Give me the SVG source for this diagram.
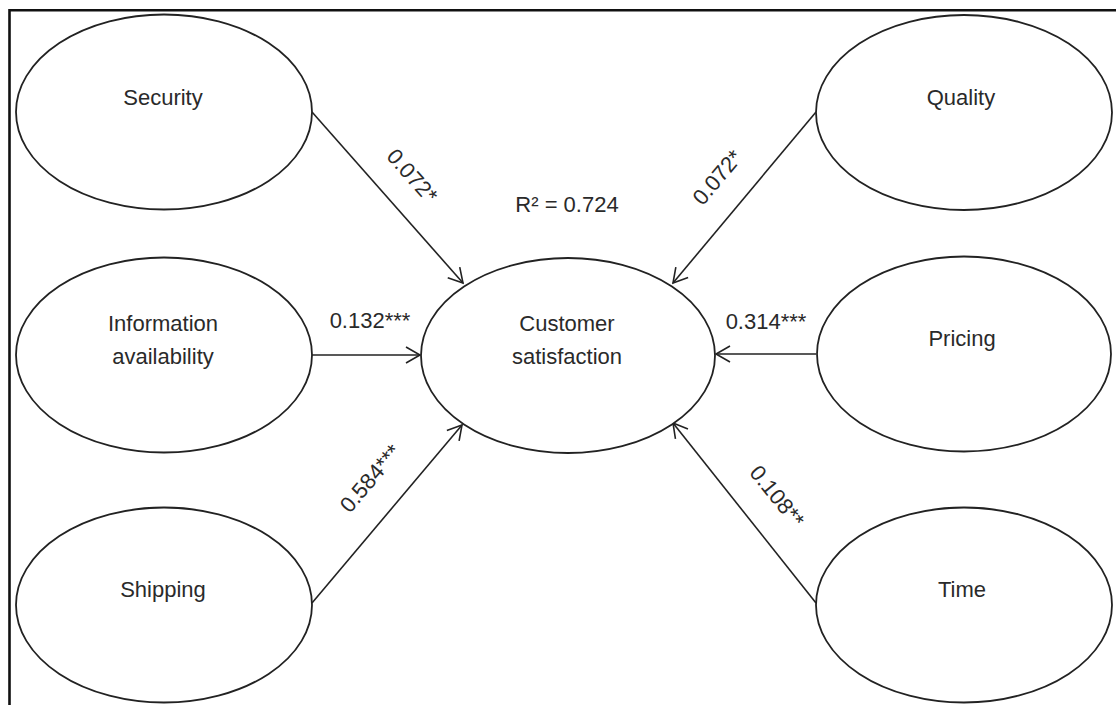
<svg xmlns="http://www.w3.org/2000/svg" width="1116" height="705" viewBox="0 0 1116 705">
<defs>
<style>
.node ellipse{fill:#fff;stroke:#222;stroke-width:1.8}
text{font-family:"Liberation Sans",Arial,sans-serif;font-size:22px;fill:#2a2a2a;text-anchor:middle}
.conn line{stroke:#222;stroke-width:1.6;fill:none}
.frame{stroke:#111;stroke-width:2.6;fill:none}
</style>
<marker id="arr" viewBox="-16 -10 18 20" refX="0" refY="0" markerWidth="18" markerHeight="20" markerUnits="userSpaceOnUse" orient="auto">
<path d="M-14,-8 L0,0 L-14,8" fill="none" stroke="#222" stroke-width="1.6"/>
</marker>
</defs>
<rect width="1116" height="705" fill="#fff"/>
<path class="frame" d="M9.5,705 L9.5,10.3 L1116,10.3"/>

<g id="connectors" class="conn">
<line x1="312" y1="112" x2="463" y2="283" marker-end="url(#arr)"/>
<line x1="312" y1="355" x2="420" y2="355" marker-end="url(#arr)"/>
<line x1="312" y1="603" x2="462" y2="425" marker-end="url(#arr)"/>
<line x1="816" y1="112" x2="673" y2="283" marker-end="url(#arr)"/>
<line x1="816" y1="354" x2="716" y2="354" marker-end="url(#arr)"/>
<line x1="816" y1="603" x2="673" y2="423" marker-end="url(#arr)"/>
</g>

<g id="node-security" class="node">
<ellipse cx="164" cy="112" rx="148" ry="97.5"/>
<text x="163" y="105">Security</text>
</g>
<g id="node-information" class="node">
<ellipse cx="164" cy="355" rx="148" ry="97.5"/>
<text x="163" y="331">Information</text>
<text x="163" y="364">availability</text>
</g>
<g id="node-shipping" class="node">
<ellipse cx="164" cy="605" rx="148" ry="97.5"/>
<text x="163" y="597">Shipping</text>
</g>
<g id="node-customer" class="node">
<ellipse cx="568" cy="355.5" rx="147" ry="97.5"/>
<text x="567" y="331">Customer</text>
<text x="567" y="364">satisfaction</text>
</g>
<g id="node-quality" class="node">
<ellipse cx="964" cy="112.5" rx="148" ry="97.5"/>
<text x="961" y="105">Quality</text>
</g>
<g id="node-pricing" class="node">
<ellipse cx="964" cy="354" rx="147" ry="97.5"/>
<text x="962" y="346">Pricing</text>
</g>
<g id="node-time" class="node">
<ellipse cx="964" cy="605" rx="148" ry="97.5"/>
<text x="962" y="597">Time</text>
</g>

<g id="labels">
<text x="567" y="212">R² = 0.724</text>
<text x="370" y="328">0.132***</text>
<text x="766" y="329">0.314***</text>
<text transform="translate(412.5,175.5) rotate(48.4)" y="8">0.072*</text>
<text transform="translate(717,177) rotate(-49.9)" y="8">0.072*</text>
<text transform="translate(370,478) rotate(-49.7)" y="8">0.584***</text>
<text transform="translate(777.5,496) rotate(51)" y="8">0.108**</text>
</g>
</svg>
